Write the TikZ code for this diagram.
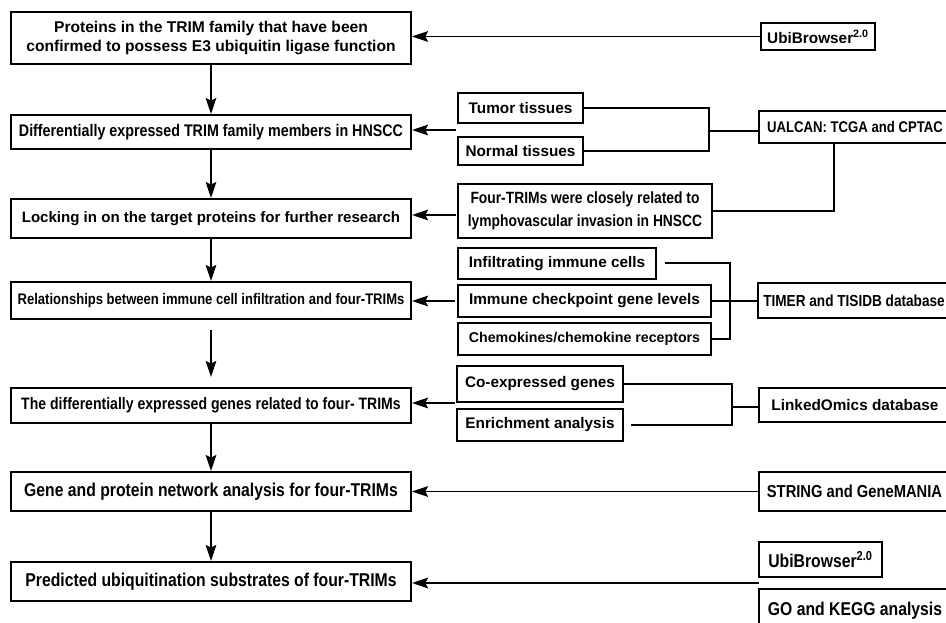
\documentclass[tikz,border=0pt]{standalone}
\usepackage{fontspec}
\setmainfont{Liberation Sans}
\newfontfamily\narrowfont{Liberation Sans}[FakeStretch=0.85]
\usetikzlibrary{positioning,arrows.meta,calc}

\begin{document}
\begin{tikzpicture}[x=0.75pt, y=-0.75pt,
main_box/.style={rectangle, draw=black, fill=white, line width=1.5pt, inner sep=0pt, minimum width=300pt, align=center, font=\narrowfont\bfseries\fontsize{12.4}{15}\selectfont},
side_box/.style={rectangle, draw=black, fill=white, line width=1.5pt, inner sep=0pt, align=center, font=\bfseries\fontsize{11.5}{14}\selectfont},
db_box/.style={rectangle, draw=black, fill=white, line width=1.5pt, inner sep=0pt, minimum width=144pt, align=center, font=\narrowfont\bfseries\fontsize{13}{16}\selectfont},
link_line/.style={line width=1.5pt},
out_arrow/.style={-{Stealth[length=12pt,width=8pt,inset=2pt]}, line width=1.4pt}
]
\useasboundingbox (0,0) rectangle (946,623);

% main steps, left column
\node[main_box, minimum height=39pt, font=\bfseries\fontsize{11.7}{14.25}\selectfont](confirmed) at (211,38) {Proteins in the TRIM family that have been\\confirmed to possess E3 ubiquitin ligase function};
\node[main_box, minimum height=25.5pt, font=\narrowfont\bfseries\fontsize{12.6}{15}\selectfont](diff_expr) at (211,132) {Differentially expressed TRIM family members in HNSCC};
\node[main_box, minimum height=29.25pt, font=\bfseries\fontsize{11.3}{14}\selectfont](locking) at (211,218.5) {Locking in on the target proteins for further research};
\node[main_box, minimum height=27.75pt, font=\narrowfont\bfseries\fontsize{11.5}{14}\selectfont](immune) at (211,300.5) {Relationships between immune cell infiltration and four-TRIMs};
\node[main_box, minimum height=26.25pt](coexpr_genes) at (211,405.5) {The differentially expressed genes related to four- TRIMs};
\node[main_box, minimum height=29.25pt, font=\narrowfont\bfseries\fontsize{13.9}{16}\selectfont](network) at (211,491.5) {Gene and protein network analysis for four-TRIMs};
\node[main_box, minimum height=29.25pt, font=\narrowfont\bfseries\fontsize{13.9}{16}\selectfont](substrates) at (211,581.5) {Predicted ubiquitination substrates of four-TRIMs};

% sources, right side
\node[side_box, minimum width=85.5pt, minimum height=20.25pt](ubi_top) at (818,36.5) {UbiBrowser\textsuperscript{2.0}};

\node[side_box, minimum width=93.75pt, minimum height=22.5pt](tumor) at (520.5,108) {Tumor tissues};
\node[side_box, minimum width=93.75pt, minimum height=21pt](normal) at (520.5,151) {Normal tissues};
\node[db_box, minimum height=24pt, font=\narrowfont\bfseries\fontsize{11.6}{14}\selectfont](ualcan) at (855,127) {UALCAN: TCGA and CPTAC};
\node[side_box, minimum width=190.5pt, minimum height=40.5pt, font=\narrowfont\bfseries\fontsize{12.2}{17.25}\selectfont](lvi) at (585,211) {Four-TRIMs were closely related to\\lymphovascular invasion in HNSCC};

\node[side_box, minimum width=148.5pt, minimum height=23.25pt](infiltrating) at (557,263.5) {Infiltrating immune cells};
\node[side_box, minimum width=189.75pt, minimum height=24pt](checkpoint) at (584.5,301) {Immune checkpoint gene levels};
\node[side_box, minimum width=189.75pt, minimum height=24pt, font=\bfseries\fontsize{10.65}{13}\selectfont](chemokines) at (584.5,339) {Chemokines/chemokine receptors};
\node[db_box, minimum height=26.25pt, font=\narrowfont\bfseries\fontsize{12}{14}\selectfont](timer) at (854,300.5) {TIMER and TISIDB database};

\node[side_box, minimum width=124.5pt, minimum height=27pt](coexp) at (540,384) {Co-expressed genes};
\node[side_box, minimum width=124.5pt, minimum height=24pt](enrich) at (540,425) {Enrichment analysis};
\node[db_box, minimum height=25.5pt, font=\bfseries\fontsize{11.5}{14}\selectfont](linked) at (855,405) {LinkedOmics database};

\node[db_box, minimum height=29.25pt](string) at (854.5,491.5) {STRING and GeneMANIA};

\node[side_box, minimum width=92.25pt, minimum height=26.25pt, font=\narrowfont\bfseries\fontsize{13.9}{16}\selectfont](ubi_bottom) at (820.5,559.5) {UbiBrowser\textsuperscript{2.0}};
\node[db_box, minimum height=33pt, font=\narrowfont\bfseries\fontsize{13.9}{16}\selectfont](go_kegg) at (855,611) {GO and KEGG analysis};

% flow down the left column
\draw[out_arrow](confirmed) -- (diff_expr);
\draw[out_arrow](diff_expr) -- (locking);
\draw[out_arrow](locking) -- (immune);
\draw[out_arrow, shorten <=7.5pt, shorten >=7.5pt](immune) -- (coexpr_genes);
\draw[out_arrow](coexpr_genes) -- (network);
\draw[out_arrow](network) -- (substrates);

% UbiBrowser
\draw[out_arrow](ubi_top.west) -- (ubi_top.west -| confirmed.east);

% UALCAN
\coordinate (ualcan_join) at (709,131);
\draw[link_line](tumor.east) -| (ualcan_join) |- (normal.east);
\draw[link_line](ualcan_join) -- (ualcan_join -| ualcan.west);
\draw[link_line](lvi.east) -| ($(ualcan.south)+(-21,0)$);
\coordinate (tissue_in) at (456,130);
\draw[out_arrow](tissue_in) -- (tissue_in -| diff_expr.east);
\coordinate (lvi_in) at (456,215);
\draw[out_arrow](lvi_in) -- (lvi_in -| locking.east);

% TIMER and TISIDB
\coordinate (timer_join) at (730,301);
\draw[link_line]($(infiltrating.east)+(8,0)$) -| (timer_join) |- (chemokines.east);
\draw[link_line](checkpoint.east) -- (checkpoint.east -| timer.west);
\coordinate (immune_in) at (455,301);
\draw[out_arrow](immune_in) -- (immune_in -| immune.east);

% LinkedOmics
\coordinate (linked_join) at (732,407);
\draw[link_line](coexp.east) -| (linked_join) |- ($(enrich.east)+(7,0)$);
\draw[link_line](linked_join) -- (linked_join -| linked.west);
\coordinate (genes_in) at (455,403);
\draw[out_arrow](genes_in) -- (genes_in -| coexpr_genes.east);

% STRING, UbiBrowser and GO/KEGG
\draw[out_arrow](string.west) -- (string.west -| network.east);
\coordinate (predict_in) at (759,583);
\draw[out_arrow](predict_in) -- (predict_in -| substrates.east);
\end{tikzpicture}
\end{document}
